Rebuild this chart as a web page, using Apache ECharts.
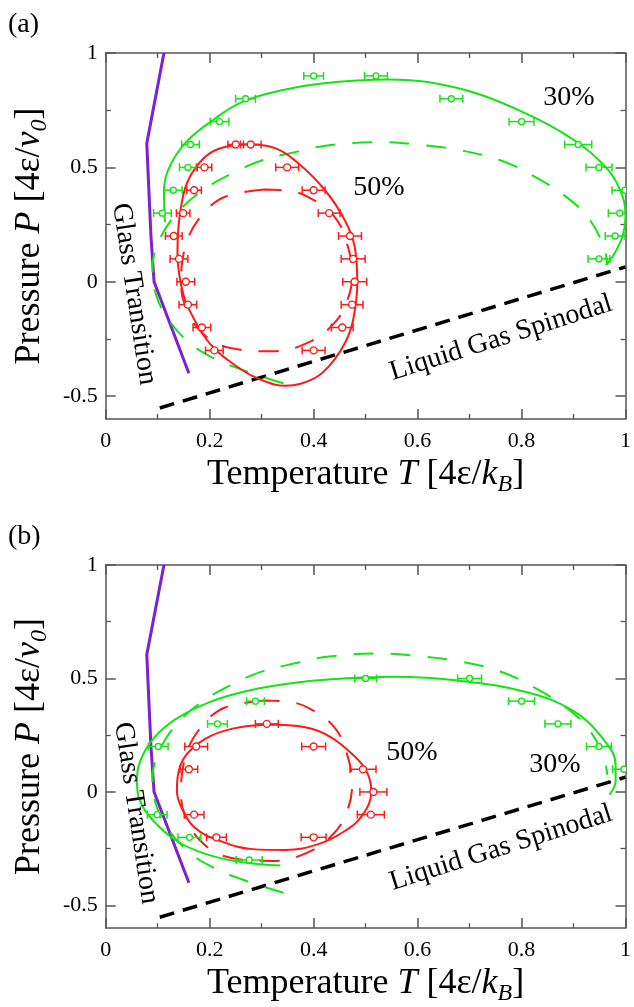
<!DOCTYPE html>
<html>
<head>
<meta charset="utf-8">
<script src="https://cdn.jsdelivr.net/npm/echarts@6/dist/echarts.min.js"></script>
<style>
  html, body { margin: 0; padding: 0; background: #fff; }
  #main { width: 634px; height: 1007px; }
</style>
</head>
<body>
<div id="main"></div>
<script>
// ---- data (T, P) ----
const yMajor = [-0.5, 0, 0.5, 1];
const yMinor = [-0.25, 0.25, 0.75];

// glass transition line and liquid-gas spinodal (same in both panels)
const glassLine = [[0.112, 1.0], [0.079, 0.605], [0.083, 0.4], [0.087, 0.2], [0.093, 0.0], [0.16, -0.4]];
const spinodal = [[0.104, -0.552], [1.0, 0.065]];

// theory curves (dashed), same in both panels
const green30Theory = [[0.342, -0.444], [0.263, -0.386], [0.2, -0.325], [0.155, -0.255], [0.117, -0.153],
  [0.096, -0.05], [0.09, 0.066], [0.098, 0.153], [0.117, 0.24], [0.145, 0.32], [0.19, 0.405], [0.24, 0.47],
  [0.3, 0.53], [0.371, 0.57], [0.43, 0.597], [0.53, 0.61], [0.61, 0.597], [0.682, 0.575], [0.759, 0.531],
  [0.825, 0.46], [0.886, 0.371], [0.93, 0.275], [0.958, 0.153], [0.965, 0.075]];
const red50Theory = [[0.305, 0.403], [0.25, 0.385], [0.215, 0.355], [0.183, 0.285], [0.16, 0.2], [0.148, 0.1],
  [0.145, 0.0], [0.152, -0.1], [0.185, -0.222], [0.24, -0.29], [0.32, -0.304], [0.39, -0.265], [0.44, -0.18],
  [0.465, -0.08], [0.474, 0.03], [0.465, 0.16], [0.44, 0.285], [0.39, 0.37], [0.35, 0.398], [0.305, 0.403]];

// panel (a) fits
const green30FitA = [[0.114, 0.26], [0.113, 0.3], [0.112, 0.393], [0.12, 0.488], [0.152, 0.604], [0.206, 0.706],
  [0.263, 0.786], [0.339, 0.837], [0.42, 0.868], [0.543, 0.884], [0.619, 0.873], [0.714, 0.823], [0.809, 0.735],
  [0.886, 0.641], [0.949, 0.531], [0.987, 0.415], [1.0, 0.284], [0.994, 0.197], [0.975, 0.109], [0.962, 0.073]];
const red50FitA = [[0.279, 0.601], [0.231, 0.59], [0.2, 0.561], [0.174, 0.502], [0.156, 0.43], [0.146, 0.342],
  [0.14, 0.24], [0.138, 0.124], [0.141, 0.037], [0.15, -0.06], [0.161, -0.124], [0.2, -0.269], [0.257, -0.378],
  [0.3, -0.43], [0.346, -0.455], [0.375, -0.446], [0.41, -0.41], [0.44, -0.34], [0.462, -0.26], [0.476, -0.167],
  [0.484, -0.007], [0.479, 0.153], [0.46, 0.269], [0.422, 0.4], [0.371, 0.517], [0.327, 0.583], [0.279, 0.601]];

// panel (b) fits
const green30FitB = [[0.336, -0.324], [0.263, -0.31], [0.193, -0.274], [0.136, -0.215], [0.092, -0.128],
  [0.066, -0.041], [0.06, 0.047], [0.066, 0.134], [0.092, 0.236], [0.136, 0.323], [0.2, 0.396], [0.276, 0.447],
  [0.371, 0.483], [0.428, 0.495], [0.504, 0.505], [0.555, 0.508], [0.682, 0.49], [0.809, 0.44], [0.898, 0.359],
  [0.956, 0.236], [0.981, 0.119], [0.981, 0.047], [0.969, -0.012]];
const red50FitB = [[0.311, 0.297], [0.244, 0.279], [0.193, 0.236], [0.155, 0.163], [0.139, 0.076], [0.137, 0.003],
  [0.146, -0.07], [0.171, -0.157], [0.219, -0.215], [0.282, -0.252], [0.346, -0.256], [0.409, -0.23],
  [0.46, -0.172], [0.495, -0.099], [0.511, 0.003], [0.502, 0.09], [0.476, 0.163], [0.432, 0.243],
  [0.384, 0.285], [0.311, 0.297]];

// simulation points [T, P, T error]
const green30PtsA = [[0.40, 0.9, 0.019], [0.52, 0.9, 0.022], [0.269, 0.8, 0.019], [0.665, 0.8, 0.022],
  [0.219, 0.7, 0.018], [0.80, 0.7, 0.024], [0.163, 0.6, 0.017], [0.909, 0.6, 0.026], [0.158, 0.5, 0.016],
  [0.949, 0.5, 0.025], [0.13, 0.4, 0.017], [0.999, 0.4, 0.025], [0.109, 0.3, 0.017], [0.989, 0.3, 0.022],
  [0.98, 0.2, 0.019], [0.949, 0.1, 0.021]];
const red50PtsA = [[0.25, 0.6, 0.015], [0.279, 0.6, 0.02], [0.19, 0.5, 0.014], [0.349, 0.5, 0.022],
  [0.17, 0.4, 0.014], [0.40, 0.4, 0.022], [0.149, 0.3, 0.013], [0.43, 0.3, 0.021], [0.131, 0.2, 0.016],
  [0.47, 0.2, 0.022], [0.141, 0.1, 0.017], [0.476, 0.1, 0.023], [0.154, 0, 0.017], [0.479, 0, 0.023],
  [0.158, -0.1, 0.017], [0.474, -0.1, 0.021], [0.185, -0.2, 0.017], [0.455, -0.2, 0.021],
  [0.209, -0.3, 0.017], [0.40, -0.3, 0.022]];
const green30PtsB = [[0.5, 0.5, 0.021], [0.70, 0.5, 0.023], [0.288, 0.4, 0.017], [0.80, 0.4, 0.025],
  [0.215, 0.3, 0.019], [0.87, 0.3, 0.025], [0.101, 0.2, 0.019], [0.949, 0.2, 0.024], [0.997, 0.1, 0.022],
  [0.099, -0.1, 0.019], [0.161, -0.2, 0.022], [0.276, -0.3, 0.025]];
const red50PtsB = [[0.31, 0.3, 0.022], [0.174, 0.2, 0.022], [0.40, 0.2, 0.023], [0.16, 0.1, 0.017],
  [0.495, 0.1, 0.025], [0.515, 0, 0.026], [0.17, -0.1, 0.019], [0.51, -0.1, 0.026], [0.213, -0.2, 0.019],
  [0.40, -0.2, 0.024]];

// ---- styling ----
const serif = 'Liberation Serif';
const axisColor = '#555';
const GREEN = '#14e414';
const RED = '#ff1a1a';
const PURPLE = '#7d1fd3';

const titleStyle = {
  fontFamily: serif, fontSize: 36, color: '#000', lineHeight: 44,
  rich: {
    i: { fontFamily: serif, fontSize: 36, fontStyle: 'italic', lineHeight: 44, color: '#000' },
    s: { fontFamily: serif, fontSize: 24, fontStyle: 'italic', lineHeight: 9, verticalAlign: 'bottom', color: '#000' }
  }
};
const xName = 'Temperature {i|T} [4ε/{i|k}{s|B}]';
const yName = 'Pressure {i|P} [4ε/{i|v}{s|0}]';

function xAx(grid, pos, labels) {
  return {
    type: 'value', gridIndex: grid, position: pos, min: 0, max: 1, interval: 0.2,
    axisLine: { show: true, onZero: false, lineStyle: { color: axisColor, width: 1.5 } },
    axisTick: { show: true, inside: true, length: 10, lineStyle: { color: axisColor, width: 1.5 } },
    minorTick: { show: true, splitNumber: 2, length: 5, lineStyle: { color: axisColor, width: 1.3 } },
    axisLabel: { show: labels, margin: 11, color: '#000', fontFamily: serif, fontSize: 22 },
    splitLine: { show: false },
    name: labels ? xName : '', nameLocation: 'middle', nameGap: 28, nameTextStyle: titleStyle
  };
}

function yAx(grid, pos, major, labels) {
  return {
    type: 'value', gridIndex: grid, position: pos, min: -0.6, max: 1,
    axisLine: { show: major, onZero: false, lineStyle: { color: axisColor, width: 1.5 } },
    axisTick: { show: true, inside: true, length: major ? 10 : 5, customValues: major ? yMajor : yMinor,
      lineStyle: { color: axisColor, width: major ? 1.5 : 1.3 } },
    axisLabel: { show: labels, customValues: yMajor, margin: 8, color: '#000', fontFamily: serif, fontSize: 22 },
    splitLine: { show: false },
    name: labels ? yName : '', nameLocation: 'middle', nameGap: 52, nameTextStyle: titleStyle
  };
}

function curve(data, g, color, width, dash, smooth) {
  return {
    type: 'line', xAxisIndex: g * 2, yAxisIndex: g * 4, data: data,
    smooth: smooth, symbol: 'none', clip: true, silent: true, animation: false,
    lineStyle: { color: color, width: width, type: dash || 'solid' }
  };
}

function errBars(data, g, color, r) {
  return {
    type: 'custom', xAxisIndex: g * 2, yAxisIndex: g * 4, data: data, clip: true, silent: true, z: 4,
    renderItem: function (params, api) {
      const p = api.coord([api.value(0), api.value(1)]);
      const l = api.coord([api.value(0) - api.value(2), api.value(1)]);
      const rr = api.coord([api.value(0) + api.value(2), api.value(1)]);
      const st = { stroke: color, lineWidth: 1.5 };
      return {
        type: 'group', children: [
          { type: 'line', shape: { x1: l[0], y1: p[1], x2: rr[0], y2: p[1] }, style: st },
          { type: 'line', shape: { x1: l[0], y1: p[1] - 4, x2: l[0], y2: p[1] + 4 }, style: st },
          { type: 'line', shape: { x1: rr[0], y1: p[1] - 4, x2: rr[0], y2: p[1] + 4 }, style: st },
          { type: 'circle', shape: { cx: p[0], cy: p[1], r: r }, style: { fill: '#fff', stroke: color, lineWidth: 1.4 } }
        ]
      };
    }
  };
}

function txt(text, x, y, size, rot, align) {
  return {
    type: 'text', x: x, y: y, rotation: rot || 0, z: 10,
    style: {
      text: text, fontFamily: serif, fontSize: size, fill: '#000',
      textAlign: align || 'center', align: align || 'center',
      textVerticalAlign: 'middle', verticalAlign: 'middle'
    }
  };
}

const dashTheory = [20, 17];
const dashSpin = [15, 9];

const series = [];
[0, 1].forEach(function (g) {
  series.push(curve(spinodal, g, '#000', 3.5, dashSpin, false));
  series.push(curve(glassLine, g, PURPLE, 3, null, false));
  series.push(curve(green30Theory, g, GREEN, 2, dashTheory, 0.4));
  series.push(curve(red50Theory, g, RED, 2, dashTheory, 0.4));
});
series.push(curve(green30FitA, 0, GREEN, 2, null, 0.4));
series.push(curve(red50FitA, 0, RED, 2, null, 0.4));
series.push(curve(green30FitB, 1, GREEN, 2, null, 0.4));
series.push(curve(red50FitB, 1, RED, 2, null, 0.4));
series.push(errBars(green30PtsA, 0, GREEN, 3));
series.push(errBars(red50PtsA, 0, RED, 3.5));
series.push(errBars(green30PtsB, 1, GREEN, 3));
series.push(errBars(red50PtsB, 1, RED, 3.5));

const chart = echarts.init(document.getElementById('main'), null, { renderer: 'canvas' });
chart.setOption({
  animation: false,
  backgroundColor: '#fff',
  grid: [
    { left: 105, top: 53, width: 525, height: 366 },
    { left: 105, top: 565, width: 525, height: 367 }
  ],
  xAxis: [xAx(0, 'bottom', true), xAx(0, 'top', false), xAx(1, 'bottom', true), xAx(1, 'top', false)],
  yAxis: [
    yAx(0, 'left', true, true), yAx(0, 'right', true, false), yAx(0, 'left', false, false), yAx(0, 'right', false, false),
    yAx(1, 'left', true, true), yAx(1, 'right', true, false), yAx(1, 'left', false, false), yAx(1, 'right', false, false)
  ],
  series: series,
  graphic: [
    txt('(a)', 8, 25, 28, 0, 'left'),
    txt('(b)', 8, 537, 28, 0, 'left'),
    txt('30%', 569, 98, 28),
    txt('50%', 379, 188, 28),
    txt('50%', 412, 753, 28),
    txt('30%', 555, 765, 28),
    txt('Glass Transition', 134, 294, 28, -1.42),
    txt('Glass Transition', 136, 813, 28, -1.42),
    txt('Liquid Gas Spinodal', 501, 338, 28, 0.307),
    txt('Liquid Gas Spinodal', 501, 848, 28, 0.307)
  ]
});
</script>
</body>
</html>
